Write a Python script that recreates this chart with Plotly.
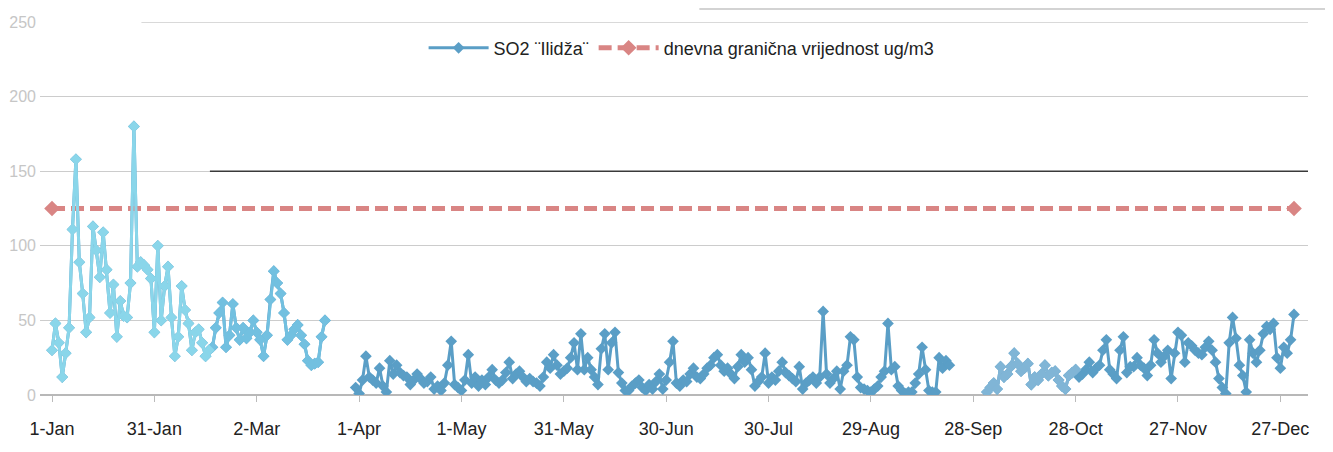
import pandas as pd
import plotly.graph_objects as go

jan = [30, 48, 35, 12, 28, 45, 111, 158, 89, 68, 42, 52, 113, 97, 79, 109, 84, 55, 74, 39,
       63, 53, 52, 75, 180, 86, 89, 87, 84, 78, 42]
feb = [100, 50, 73, 86, 52, 26, 39, 73, 57, 48, 30, 42, 44, 35, 26, 30, 32, 45, 55, 62,
       32, 40, 61, 45, 37, 45, 38, 42]
mar = [50, 42, 37, 26, 40, 64, 83, 75, 68, 55, 37, 40, 44, 47, 40, 34, 23, 20, 21, 22,
       39, 50, None, None, None, None, None, None, None, None, 5]
apr = [1, 10, 26, 12, 10, 8, 18, 6, 2, 23, 14, 20, 15, 13, 12, 7, 10, 14, 11, 8,
       9, 12, 4, 6, 3, 8, 20, 36, 7, 5]
may = [3, 10, 27, 8, 12, 6, 10, 7, 12, 17, 10, 8, 10, 15, 22, 11, 14, 16, 12, 9,
       11, 9, 8, 6, 12, 22, 18, 27, 20, 14, 16]
jun = [18, 25, 35, 17, 41, 17, 25, 17, 12, 7, 31, 41, 17, 35, 42, 15, 8, 3, 3, 6,
       8, 10, 5, 3, 7, 4, 9, 14, 4, 10]
jul = [22, 36, 8, 6, 10, 9, 14, 18, 12, 11, 14, 18, 20, 25, 27, 20, 16, 18, 14, 11,
       19, 27, 22, 25, 17, 6, 9, 12, 28, 8, 12]
aug = [10, 16, 22, 15, 13, 11, 9, 19, 4, 8, 10, 12, 8, 12, 56, 14, 8, 11, 16, 4,
       16, 20, 39, 37, 12, 5, 4, 3, 2, 4, 6]
sep = [12, 16, 48, 17, 19, 6, 3, 1, 2, 2, 8, 14, 32, 17, 3, 2, 2, 25, 18, 23,
       20, None, None, None, None, None, None, None, None, None]
oct_ = [None, 2, 5, 8, 4, 19, 12, 14, 19, 28, 21, 16, 18, 21, 7, 12, 10, 14, 20, 13,
        15, 16, 10, 6, 4, 13, 15, 17, 12, 14, 17]
nov = [22, 15, 18, 20, 30, 37, 17, 14, 11, 30, 39, 15, 19, 19, 25, 20, 18, 13, 20, 37,
       28, 22, 26, 30, 11, 28, 42, 40, 22, 35]
dec = [33, 30, 28, 27, 32, 36, 30, 22, 11, 5, 1, 35, 52, 38, 20, 13, 2, 37, 28, 22,
       30, 41, 46, 44, 48, 25, 18, 32, 28, 37, 54]

so2 = jan + feb + mar + apr + may + jun + jul + aug + sep + oct_ + nov + dec

# daily limit value, drawn from first to last day of the year
limit_days = ['2019-01-01', '2019-12-31']
limit_vals = [125, 125]

tick_labels = ['1-Jan', '31-Jan', '2-Mar', '1-Apr', '1-May', '31-May', '30-Jun',
               '30-Jul', '29-Aug', '28-Sep', '28-Oct', '27-Nov', '27-Dec']

days = pd.date_range('2019-01-01', periods=len(so2), freq='D')
tick_vals = pd.date_range('2019-01-01', periods=len(tick_labels), freq='30D')

font_family = 'Liberation Sans, Arial'
main_color = '#5a9ec6'
limit_color = '#d98584'


def segment(vals, start, end):
    # keep only the values in [start, end], used to recolour parts of the scan
    return [v if start <= i <= end else None for i, v in enumerate(vals)]


fig = go.Figure()
fig.add_trace(go.Scatter(x=days, y=so2, name='SO2 ¨Ilidža¨', mode='lines+markers',
                         line=dict(color=main_color, width=3),
                         marker=dict(symbol='diamond', size=9, color=main_color),
                         connectgaps=False))

fig.add_trace(go.Scatter(x=limit_days, y=limit_vals, name='dnevna granična vrijednost ug/m3',
                         mode='lines+markers',
                         line=dict(color=limit_color, width=5, dash='13px,6px'),
                         marker=dict(symbol='diamond', size=12, color=limit_color)))

# lighter parts of the scanned line
for start, end, col in [(45, 81, '#72c0e0'), (0, 46, '#8ad6ea'), (274, 300, '#80b5d6')]:
    fig.add_trace(go.Scatter(x=days, y=segment(so2, start, end), mode='lines+markers',
                             line=dict(color=col, width=3),
                             marker=dict(symbol='diamond', size=9, color=col),
                             showlegend=False, hoverinfo='skip'))

# scan artefacts: dark stretches of grid lines and the sheet edge at the top
fig.add_shape(type='line', xref='paper', yref='y', x0=0.08, x1=1.0, y0=250, y1=250,
              line=dict(color='#cccccc', width=1.3), layer='below')
fig.add_shape(type='line', xref='paper', yref='y', x0=0.134, x1=1.0, y0=150, y1=150,
              line=dict(color='#3a3a3a', width=1.5), layer='above')
fig.add_shape(type='line', xref='paper', yref='y', x0=0.515, x1=0.75, y0=0, y1=0,
              line=dict(color='#555555', width=1.5), layer='below')
fig.add_shape(type='line', xref='paper', yref='paper', x0=0.52, x1=1.03, y0=1.035, y1=1.035,
              line=dict(color='#c4c4c4', width=1.5))

# the page body adds an 8px offset, so the figure is sized 8px smaller
fig.update_layout(
    width=1325, height=444,
    margin=dict(l=32, r=25, t=14, b=57),
    paper_bgcolor='white', plot_bgcolor='white',
    font=dict(family=font_family, size=16, color='#222222'),
    legend=dict(orientation='h', x=0.506, xanchor='center', y=0.93, yanchor='middle',
                font=dict(size=18, color='#222222'), itemwidth=60,
                bgcolor='rgba(0,0,0,0)'),
    xaxis=dict(type='date', range=['2018-12-28 11:30', '2020-01-04 02:30'],
               tickvals=tick_vals, ticktext=tick_labels, showgrid=False,
               ticks='outside', ticklen=6, tickcolor='#bbbbbb', automargin=False,
               ticklabelstandoff=11, tickfont=dict(size=18, color='#222222')),
    yaxis=dict(range=[0, 250], dtick=50, gridcolor='#cccccc', gridwidth=1.3,
               zeroline=True, zerolinecolor='#b8b8b8', zerolinewidth=1.5,
               automargin=False, ticklabelstandoff=3,
               tickfont=dict(size=16, color='#c6c6c6')),
)

fig.write_html('out.html')
